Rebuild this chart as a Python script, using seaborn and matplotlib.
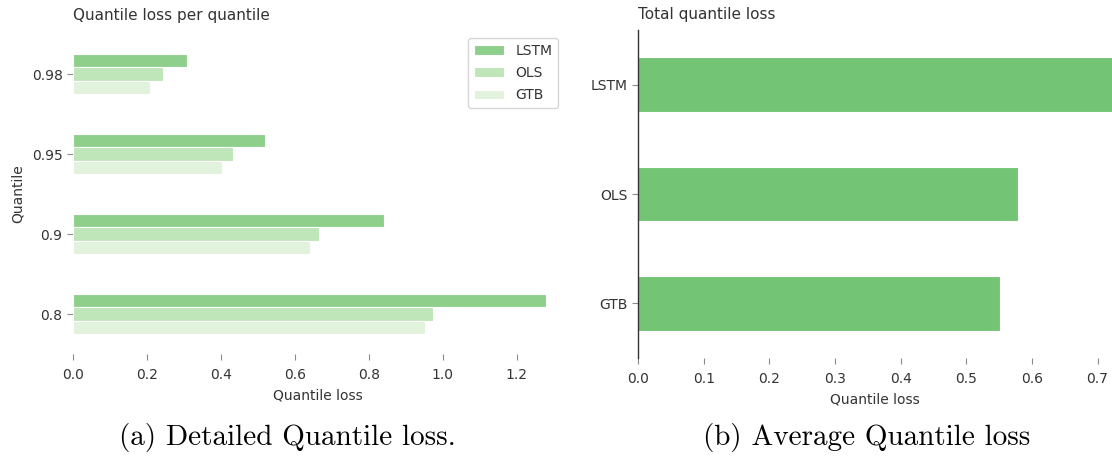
import matplotlib
matplotlib.use("Agg")
import matplotlib.pyplot as plt
import seaborn as sns
import pandas as pd

# Per-quantile loss for each model
quantiles = ["0.98", "0.95", "0.9", "0.8"]
models = ["LSTM", "OLS", "GTB"]
lstm_loss = [0.308, 0.520, 0.842, 1.279]
ols_loss = [0.244, 0.433, 0.665, 0.974]
gtb_loss = [0.208, 0.404, 0.641, 0.953]

# Average loss over all quantiles
total_loss = [0.737, 0.579, 0.551]

bar_colors = ["#8ed08b", "#bfe6b8", "#e1f3dc"]
total_color = "#74c476"

sns.set_theme(style="ticks")
plt.rcParams["font.family"] = ["DejaVu Sans"]
text_color = "#333333"
plt.rcParams.update({
    "text.color": text_color,
    "axes.labelcolor": text_color,
    "xtick.color": "#8a8a8a",
    "ytick.color": "#8a8a8a",
    "xtick.labelcolor": text_color,
    "ytick.labelcolor": text_color,
    "xtick.major.width": 0.8,
    "ytick.major.width": 0.8,
    "xtick.major.size": 4,
    "ytick.major.size": 4,
    "xtick.major.pad": 6,
    "xtick.labelsize": 10,
    "ytick.labelsize": 10,
    "axes.labelsize": 10,
    "axes.labelpad": 5,
    "axes.titlesize": 11,
})

W, H = 1112, 466
fig = plt.figure(figsize=(W / 100, H / 100), dpi=100)

detail = pd.DataFrame({
    "Quantile": quantiles * 3,
    "Model": [m for m in models for _ in quantiles],
    "Quantile loss": lstm_loss + ols_loss + gtb_loss,
})

ax1 = fig.add_axes([73 / W, (H - 354) / H, (562 - 73) / W, 320 / H])
sns.barplot(data=detail, y="Quantile", x="Quantile loss", hue="Model",
            order=quantiles, hue_order=models, palette=bar_colors,
            saturation=1, orient="h", width=0.5, ax=ax1,
            edgecolor="white", linewidth=0.8)
ax1.set_xlim(0, 1.323)
ax1.set_xticks([0.0, 0.2, 0.4, 0.6, 0.8, 1.0, 1.2])
ax1.set_xticklabels(["0.0", "0.2", "0.4", "0.6", "0.8", "1.0", "1.2"])
for side in ["left", "right", "top", "bottom"]:
    ax1.spines[side].set_visible(False)
ax1.set_title("Quantile loss per quantile", loc="left", pad=10)
ax1.set_ylabel("Quantile")
ax1.set_xlabel("Quantile loss")
leg = ax1.legend(loc="upper right", frameon=True, fontsize=10,
                 handlelength=2.2, labelspacing=0.6, borderaxespad=0.3)
leg.get_frame().set_edgecolor("#cccccc")

summary = pd.DataFrame({"Model": models, "Quantile loss": total_loss})
ax2 = fig.add_axes([638 / W, (H - 358) / H, (W - 638) / W, 328 / H])
sns.barplot(data=summary, y="Model", x="Quantile loss", order=models,
            color=total_color, saturation=1, orient="h", width=0.5, ax=ax2,
            edgecolor="white", linewidth=0.8)
ax2.set_xlim(0, 0.722)
ax2.set_xticks([0.0, 0.1, 0.2, 0.3, 0.4, 0.5, 0.6, 0.7])
ax2.set_xticklabels(["0.0", "0.1", "0.2", "0.3", "0.4", "0.5", "0.6", "0.7"])
for side in ["right", "top", "bottom"]:
    ax2.spines[side].set_visible(False)
ax2.spines["left"].set_color("#333333")
ax2.spines["left"].set_linewidth(1.0)
ax2.set_title("Total quantile loss", loc="left", pad=8)
ax2.set_ylabel("")
ax2.set_xlabel("Quantile loss")

# Sub-figure captions
fig.text(287 / W, 1 - 437 / H, "(a) Detailed Quantile loss.",
         family="cmr10", fontsize=21, color="black", ha="center", va="center")
fig.text(867 / W, 1 - 437 / H, "(b) Average Quantile loss",
         family="cmr10", fontsize=21, color="black", ha="center", va="center")

fig.savefig("out.png", dpi=100)
